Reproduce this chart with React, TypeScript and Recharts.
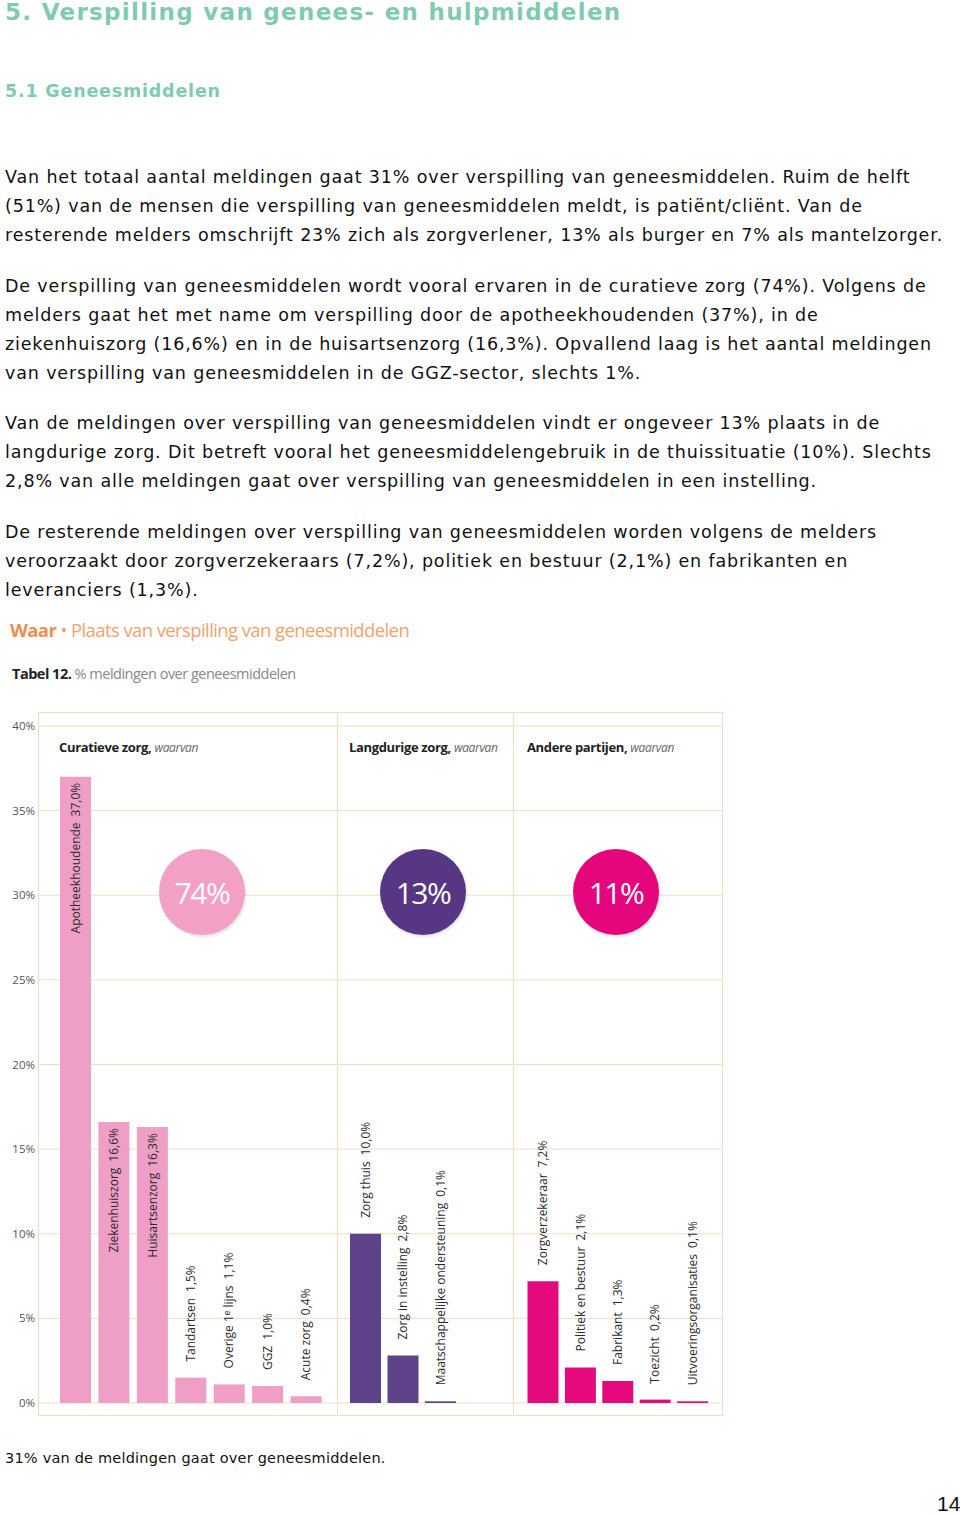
import { BarChart, Bar, XAxis, YAxis, CartesianGrid, LabelList } from "recharts";

// categories and values per group
const curatiefNamen = ["Apotheekhoudende", "Ziekenhuiszorg", "Huisartsenzorg", "Tandartsen", "Overige 1ᵉ lijns", "GGZ", "Acute zorg"];
const curatiefWaarden = [37.0, 16.6, 16.3, 1.5, 1.1, 1.0, 0.4];

const langdurigNamen = ["Zorg thuis", "Zorg in instelling", "Maatschappelijke ondersteuning", "PGB"];
const langdurigWaarden = [10.0, 2.8, 0.1, 0.0];

const anderNamen = ["Zorgverzekeraar", "Politiek en bestuur", "Fabrikant", "Toezicht", "Uitvoeringsorganisaties"];
const anderWaarden = [7.2, 2.1, 1.3, 0.2, 0.1];

const groepTitels = ["Curatieve zorg,", "Langdurige zorg,", "Andere partijen,"];
const groepTotalen = ["74%", "13%", "11%"];
const yTicks = [0, 5, 10, 15, 20, 25, 30, 35, 40];

const paragrafen = [
  [
    "Van het totaal aantal meldingen gaat 31% over verspilling van geneesmiddelen. Ruim de helft",
    "(51%) van de mensen die verspilling van geneesmiddelen meldt, is patiënt/cliënt. Van de",
    "resterende melders omschrijft 23% zich als zorgverlener, 13% als burger en 7% als mantelzorger.",
  ],
  [
    "De verspilling van geneesmiddelen wordt vooral ervaren in de curatieve zorg (74%). Volgens de",
    "melders gaat het met name om verspilling door de apotheekhoudenden (37%), in de",
    "ziekenhuiszorg (16,6%) en in de huisartsenzorg (16,3%). Opvallend laag is het aantal meldingen",
    "van verspilling van geneesmiddelen in de GGZ-sector, slechts 1%.",
  ],
  [
    "Van de meldingen over verspilling van geneesmiddelen vindt er ongeveer 13% plaats in de",
    "langdurige zorg. Dit betreft vooral het geneesmiddelengebruik in de thuissituatie (10%). Slechts",
    "2,8% van alle meldingen gaat over verspilling van geneesmiddelen in een instelling.",
  ],
  [
    "De resterende meldingen over verspilling van geneesmiddelen worden volgens de melders",
    "veroorzaakt door zorgverzekeraars (7,2%), politiek en bestuur (2,1%) en fabrikanten en",
    "leveranciers (1,3%).",
  ],
];
const paragraafTop = [176, 285, 422, 531];

const GRID = "#f4dcc2";
const KLEUREN = ["#ef9fc6", "#5e438a", "#e4097c"];
const CIRKELS = ["#f2a0c6", "#573784", "#e5067e"];

const CHART_TOP = 712;
const CHART_H = 704;
const SANS = "'Open Sans', sans-serif";
const VERDANA = "'DejaVu Sans', Verdana, sans-serif";

const fmt = (v: number) => v.toFixed(1).replace(".", ",") + "%";

function rows(namen: string[], waarden: number[]) {
  return namen.map((naam, i) => ({ naam, waarde: waarden[i] }));
}

function makeLabel(data: { naam: string; waarde: number }[]) {
  return (props: any) => {
    const { x, y, width, index } = props;
    const r = data[index];
    if (!r) return null;
    const cx = Number(x) + Number(width) / 2;
    const inside = r.waarde > 15;
    const ay = inside ? Number(y) + 6 : Number(y) - 16;
    return (
      <text
        x={cx}
        y={ay}
        dy="0.35em"
        transform={`rotate(-90 ${cx} ${ay})`}
        textAnchor={inside ? "end" : "start"}
        fontFamily={SANS}
        fontSize={12}
        fill="#2b2b2b"
      >
        <tspan>{r.naam}</tspan>
        <tspan dx={6}>{fmt(r.waarde)}</tspan>
      </text>
    );
  };
}

function Panel({ data, left, width, color, padL, padR, withAxis }: any) {
  return (
    <div style={{ position: "absolute", left, top: CHART_TOP }}>
      <BarChart width={width} height={CHART_H} data={data} margin={{ top: 14, right: 0, bottom: 13, left: 0 }}>
        <CartesianGrid vertical={false} stroke={GRID} />
        <XAxis dataKey="naam" hide padding={{ left: padL, right: padR }} />
        <YAxis
          domain={[0, 40]}
          ticks={yTicks}
          hide={!withAxis}
          width={38}
          axisLine={false}
          tickLine={false}
          tickSize={0}
          tickMargin={3}
          tickFormatter={(v) => `${v}%`}
          tick={{ fontSize: 11.5, fill: "#555", fontFamily: SANS }}
        />
        <Bar dataKey="waarde" fill={color} barSize={31} isAnimationActive={false}>
          <LabelList dataKey="naam" content={makeLabel(data)} />
        </Bar>
      </BarChart>
    </div>
  );
}

export default function App() {
  const line = 29;
  return (
    <div style={{ position: "relative", width: 960, height: 1515, background: "#fff", fontFamily: VERDANA }}>
      <style>{"body{margin:0}"}</style>

      <div style={{ position: "absolute", left: 5, top: -1, fontWeight: 700, fontSize: 23, letterSpacing: 1.3, color: "#7fcbb1", whiteSpace: "nowrap" }}>
        5. Verspilling van genees- en hulpmiddelen
      </div>
      <div style={{ position: "absolute", left: 5, top: 81, fontWeight: 700, fontSize: 17.5, letterSpacing: 0.8, color: "#7fcbb1", whiteSpace: "nowrap" }}>
        5.1 Geneesmiddelen
      </div>

      {paragrafen.map((p, pi) =>
        p.map((t, li) => (
          <div
            key={`${pi}-${li}`}
            style={{ position: "absolute", left: 5, top: paragraafTop[pi] + li * 29.3 - line / 2 + 1, lineHeight: `${line}px`, fontSize: 17.5, letterSpacing: 0.85, color: "#111", whiteSpace: "nowrap" }}
          >
            {t}
          </div>
        ))
      )}

      <div style={{ position: "absolute", left: 10, top: 617, fontFamily: SANS, fontSize: 18.5, letterSpacing: -0.6, color: "#f0a36e", whiteSpace: "nowrap" }}>
        <span style={{ fontWeight: 700, color: "#ea8f55" }}>Waar</span> • Plaats van verspilling van geneesmiddelen
      </div>
      <div style={{ position: "absolute", left: 12, top: 664, fontFamily: SANS, fontSize: 14.5, letterSpacing: -0.5, color: "#888", whiteSpace: "nowrap" }}>
        <span style={{ fontWeight: 700, color: "#222" }}>Tabel 12.</span> % meldingen over geneesmiddelen
      </div>

      {/* chart frame */}
      <div style={{ position: "absolute", left: 38, top: CHART_TOP, width: 685, height: CHART_H, border: `1px solid ${GRID}`, boxSizing: "border-box" }} />
      <div style={{ position: "absolute", left: 337, top: CHART_TOP, width: 1, height: CHART_H, background: GRID }} />
      <div style={{ position: "absolute", left: 513, top: CHART_TOP, width: 1, height: CHART_H, background: GRID }} />

      <Panel data={rows(curatiefNamen, curatiefWaarden)} left={0} width={337} color={KLEUREN[0]} padL={18} padR={12} withAxis />
      <Panel data={rows(langdurigNamen, langdurigWaarden)} left={337} width={176} color={KLEUREN[1]} padL={10} padR={16} />
      <Panel data={rows(anderNamen, anderWaarden)} left={513} width={210} color={KLEUREN[2]} padL={11.5} padR={11.5} />

      {[59, 349, 527].map((x, i) => (
        <div key={i} style={{ position: "absolute", left: x, top: 738, fontFamily: SANS, fontSize: 13, letterSpacing: -0.35, color: "#222", whiteSpace: "nowrap" }}>
          <span style={{ fontWeight: 700 }}>{groepTitels[i]}</span>{" "}
          <span style={{ fontStyle: "italic", color: "#666", fontSize: 12 }}>waarvan</span>
        </div>
      ))}

      {[202, 423, 616].map((cx, i) => (
        <div
          key={i}
          style={{
            position: "absolute", left: cx - 43, top: 892 - 43, width: 86, height: 86, borderRadius: "50%",
            background: CIRKELS[i], color: "#fff", fontFamily: SANS, fontSize: 30, letterSpacing: -1.5,
            display: "flex", alignItems: "center", justifyContent: "center", boxShadow: "1px 2px 3px rgba(0,0,0,0.12)",
          }}
        >
          {groepTotalen[i]}
        </div>
      ))}

      <div style={{ position: "absolute", left: 5, top: 1450, fontSize: 14.5, letterSpacing: 0.2, color: "#111", whiteSpace: "nowrap" }}>
        31% van de meldingen gaat over geneesmiddelen.
      </div>
      <div style={{ position: "absolute", left: 937, top: 1492, fontFamily: "'Liberation Sans Narrow', 'Liberation Sans', sans-serif", fontSize: 21, color: "#111" }}>
        14
      </div>
    </div>
  );
}
